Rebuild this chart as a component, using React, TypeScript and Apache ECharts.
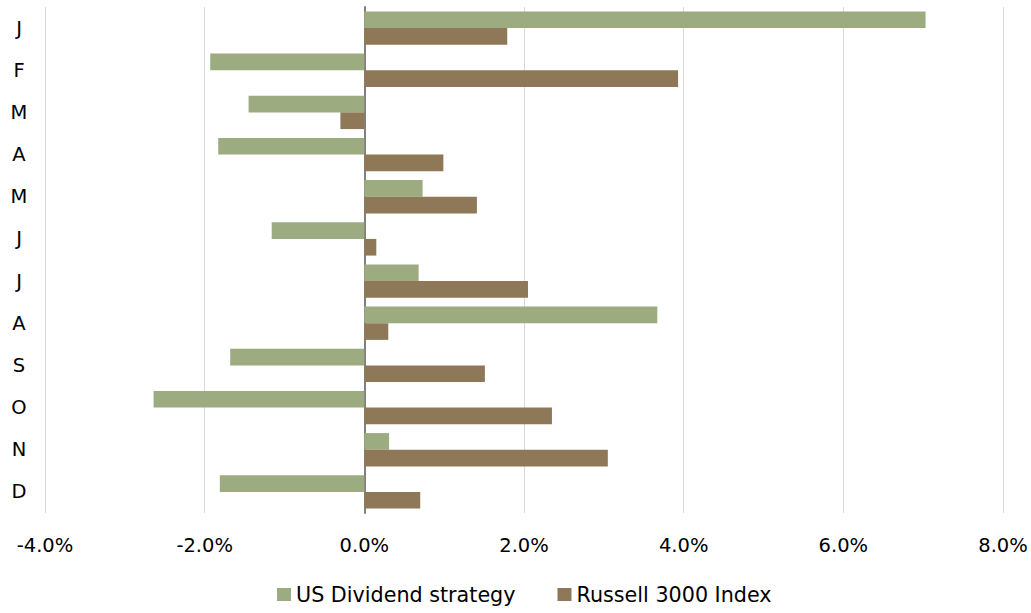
import React, { useEffect, useRef } from "react";
import * as echarts from "echarts";

// Monthly returns, January to December
const months = ["J", "F", "M", "A", "M", "J", "J", "A", "S", "O", "N", "D"];
const dividendStrategy = [7.03, -1.93, -1.45, -1.83, 0.73, -1.16, 0.68, 3.67, -1.68, -2.64, 0.31, -1.81];
const russell3000 = [1.79, 3.93, -0.3, 0.99, 1.41, 0.15, 2.05, 0.3, 1.51, 2.35, 3.05, 0.7];
const seriesNames = ["US Dividend strategy", "Russell 3000 Index"];
const colors = ["#9cab80", "#8f7857"];

const FONT = "DejaVu Sans";

export default function App() {
  const ref = useRef<HTMLDivElement>(null);

  useEffect(() => {
    document.body.style.margin = "0";
    if (!ref.current) return;
    const chart = echarts.init(ref.current, null, { renderer: "svg" });
    chart.setOption({
      animation: false,
      backgroundColor: "#ffffff",
      textStyle: { fontFamily: FONT },
      grid: { left: 45, right: 28, top: 7, bottom: 100, containLabel: false },
      legend: {
        data: seriesNames,
        bottom: 3,
        left: 272,
        itemWidth: 14,
        itemHeight: 13,
        itemGap: 42,
        icon: "rect",
        textStyle: { fontFamily: FONT, fontSize: 20.7, color: "#000" },
      },
      xAxis: {
        type: "value",
        min: -4,
        max: 8,
        interval: 2,
        axisLine: { show: false },
        axisTick: { show: false },
        splitLine: { show: true, lineStyle: { color: "#d9d9d9", width: 1 } },
        axisLabel: {
          margin: 22,
          fontFamily: FONT,
          fontSize: 19.5,
          color: "#000",
          formatter: (v: number) => v.toFixed(1) + "%",
        },
      },
      yAxis: {
        type: "category",
        data: months,
        inverse: true,
        axisLine: { show: true, onZero: true, lineStyle: { color: "#808080", width: 2 } },
        axisTick: { show: false },
        splitLine: { show: false },
        axisLabel: {
          margin: 26,
          align: "center",
          fontFamily: FONT,
          fontSize: 19.5,
          color: "#000",
        },
      },
      series: [
        {
          name: seriesNames[0],
          type: "bar",
          data: dividendStrategy,
          itemStyle: { color: colors[0] },
          barGap: "0%",
          barCategoryGap: "21%",
        },
        {
          name: seriesNames[1],
          type: "bar",
          data: russell3000,
          itemStyle: { color: colors[1] },
          barGap: "0%",
          barCategoryGap: "21%",
        },
      ],
    });
    return () => chart.dispose();
  }, []);

  return <div ref={ref} style={{ width: 1031, height: 613 }} />;
}
